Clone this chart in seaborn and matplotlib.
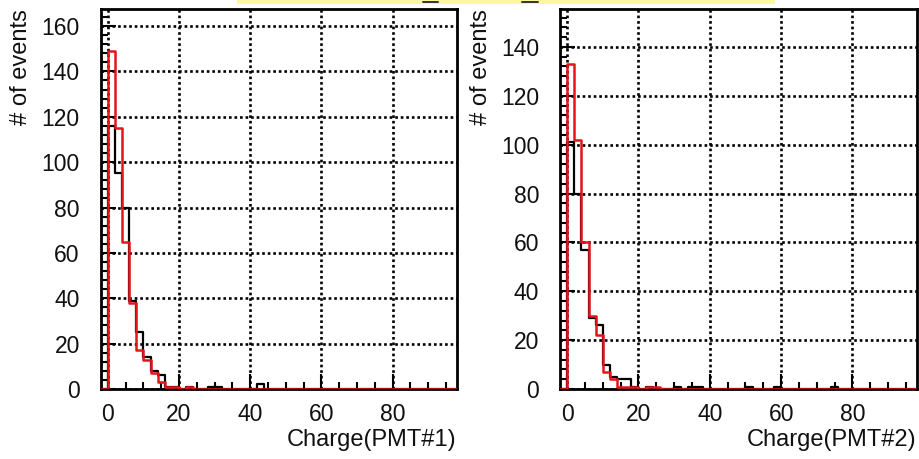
import numpy as np
import pandas as pd
import matplotlib
matplotlib.use("Agg")
import matplotlib.pyplot as plt
from matplotlib.patches import Rectangle
from matplotlib.lines import Line2D
from matplotlib.ticker import MultipleLocator
import seaborn as sns

# ---------------- data ----------------
bin_edges = list(range(-2, 100, 2))          # 50 bins of width 2, from -2 to 98

# PMT#1
pmt1_black = [0, 116, 95, 80, 39, 25, 14, 8, 6, 1,
              1, 0, 1, 0, 0, 1, 1, 0, 0, 0,
              0, 0, 2, 0, 0, 0, 0, 0, 0, 0,
              0, 0, 0, 0, 0, 0, 0, 0, 0, 0,
              0, 0, 0, 0, 0, 0, 0, 0, 0, 0]
pmt1_red = [0, 149, 115, 65, 38, 17, 13, 7, 3, 1,
            1, 0, 1, 0, 0, 0, 0, 0, 0, 0,
            0, 0, 0, 0, 0, 0, 0, 0, 0, 0,
            0, 0, 0, 0, 0, 0, 0, 0, 0, 0,
            0, 0, 0, 0, 0, 0, 0, 0, 0, 0]
# PMT#2
pmt2_black = [0, 101, 80, 57, 29, 26, 10, 5, 4, 4,
              1, 0, 1, 0, 0, 0, 1, 0, 1, 1,
              0, 0, 0, 0, 0, 0, 1, 0, 0, 0,
              1, 0, 0, 0, 0, 0, 0, 0, 1, 0,
              0, 0, 0, 0, 0, 0, 0, 0, 0, 0]
pmt2_red = [0, 133, 102, 60, 30, 22, 7, 4, 1, 1,
            1, 0, 1, 1, 0, 0, 0, 0, 0, 0,
            0, 0, 0, 0, 0, 0, 0, 0, 0, 0,
            0, 0, 0, 0, 0, 0, 0, 0, 0, 0,
            0, 0, 0, 0, 0, 0, 0, 0, 0, 0]

x_labels = ["Charge(PMT#1)", "Charge(PMT#2)"]
y_label = "# of events"
y_max = [167.5, 155.5]
x_range = (-2, 98)

# ---------------- style ----------------
sns.set_theme(style="white")
plt.rcParams["font.family"] = ["Liberation Sans", "DejaVu Sans"]

W, H = 919, 459
fig = plt.figure(figsize=(W / 100, H / 100), dpi=100)
fig.patch.set_facecolor("white")

axes_px = [(100.7, 456.7), (560.0, 916.7)]
y_top, y_bot = 9.0, 389.0

centers = [(bin_edges[i] + bin_edges[i + 1]) / 2 for i in range(len(bin_edges) - 1)]
series = [(pmt1_black, pmt1_red), (pmt2_black, pmt2_red)]

RED = "#e3141a"
for k, (xl, xr) in enumerate(axes_px):
    ax = fig.add_axes([xl / W, (H - y_bot) / H, (xr - xl) / W, (y_bot - y_top) / H])
    ax.set_facecolor("white")
    df = pd.DataFrame({"charge": centers, "black": series[k][0], "red": series[k][1]})
    sns.histplot(data=df, x="charge", weights="black", bins=bin_edges, element="step",
                 fill=False, color="black", linewidth=1.6, ax=ax, zorder=3)
    sns.histplot(data=df, x="charge", weights="red", bins=bin_edges, element="step",
                 fill=False, color=RED, linewidth=1.8, ax=ax, zorder=3.1)
    ax.set_xlim(*x_range)
    ax.set_ylim(0, y_max[k])

    ax.xaxis.set_major_locator(MultipleLocator(20))
    ax.xaxis.set_minor_locator(MultipleLocator(5))
    ax.yaxis.set_major_locator(MultipleLocator(20))
    ax.yaxis.set_minor_locator(MultipleLocator(4))
    ax.tick_params(axis="both", which="major", direction="in", length=10.5, width=1.5,
                   color="black", labelsize=16.5, labelcolor="#111111",
                   bottom=True, left=True, top=False, right=False)
    ax.tick_params(axis="both", which="minor", direction="in", length=5.2, width=1.5,
                   color="black", bottom=True, left=True, top=False, right=False)
    ax.tick_params(axis="x", which="major", pad=10)
    ax.tick_params(axis="y", which="major", pad=15)

    ax.grid(True, which="major", color="black", linestyle=(0, (1, 1.1)), linewidth=1.9)
    ax.set_axisbelow(True)
    for sp in ax.spines.values():
        sp.set_visible(True)
        sp.set_color("black")
        sp.set_linewidth(2.0)

    ax.set_xlabel(x_labels[k], fontsize=17, color="#111111", loc="right")
    ax.xaxis.set_label_coords(1.0, -0.105)
    ax.set_ylabel(y_label, fontsize=17, color="#111111", loc="top")
    ax.yaxis.set_label_coords((32 - xl + (0 if k == 0 else 460)) / (xr - xl), 1.0)

# partial (cropped) title box at the top of the canvas
fig.patches.append(Rectangle((237 / W, (H - 3.5) / H), (775 - 237) / W, 3.5 / H,
                             transform=fig.transFigure, facecolor="#fdf7a0",
                             edgecolor="none", zorder=5))
for (a, b) in [(423, 438), (522, 538)]:
    fig.lines.append(Line2D([a / W, b / W], [(H - 1.5) / H] * 2, transform=fig.transFigure,
                            color="#333333", linewidth=1.4, zorder=6))

fig.savefig("out.png", dpi=100, facecolor="white")
